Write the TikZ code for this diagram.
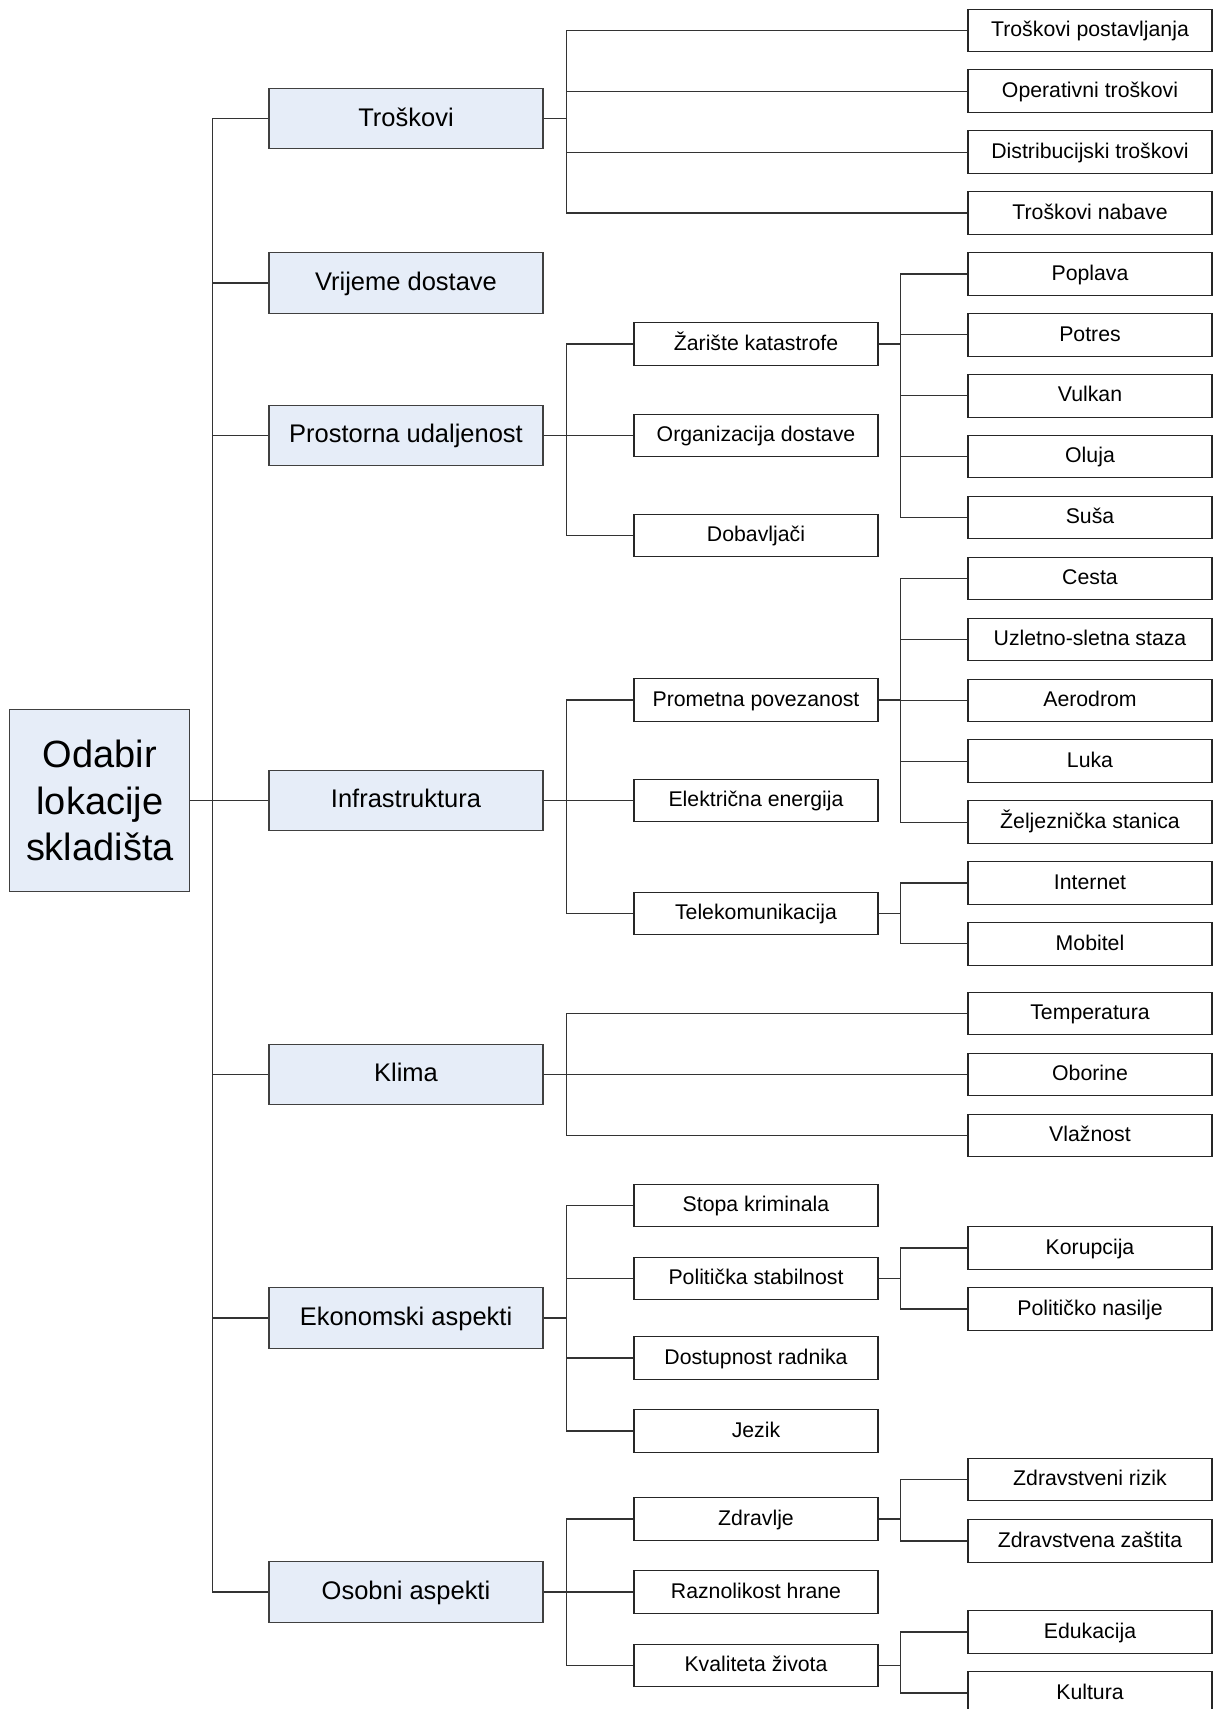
\documentclass[tikz,border=0pt]{standalone}
\usepackage{fontspec}
\setmainfont{Liberation Sans}
\definecolor{boxblue}{RGB}{230,237,248}

\begin{document}
\begin{tikzpicture}[
  root/.style={draw=black!75,fill=boxblue,line width=0.6pt,minimum width=3.6cm,minimum height=3.65cm,inner sep=0pt,align=center,font=\fontsize{21.6}{26.5}\selectfont},
  factor/.style={draw=black!75,fill=boxblue,line width=0.6pt,minimum width=5.48cm,minimum height=1.21cm,inner sep=0pt,text height=11.6pt,text depth=3.2pt,font=\fontsize{14.5}{17}\selectfont},
  sub/.style={draw=black!85,fill=white,line width=0.6pt,minimum width=4.88cm,minimum height=0.85cm,inner sep=0pt,text height=9.7pt,text depth=2.7pt,font=\fontsize{12.1}{14}\selectfont},
  link/.style={draw=black!80,line width=0.6pt}
]
\useasboundingbox (0,0) rectangle (24.26,-34.18);

% root
\node[root] (odabir) at (1.997,-16.01) {Odabir\\lokacije\\skladišta};

% first level
\node[factor] (troskovi) at (8.12,-2.374) {Troškovi};
\node[factor] (vrijeme) at (8.12,-5.66) {Vrijeme dostave};
\node[factor] (prostorna) at (8.12,-8.706) {Prostorna udaljenost};
\node[factor] (infra) at (8.12,-16.01) {Infrastruktura};
\node[factor] (klima) at (8.12,-21.49) {Klima};
\node[factor] (ekonomski) at (8.12,-26.36) {Ekonomski aspekti};
\node[factor] (osobni) at (8.12,-31.84) {Osobni aspekti};

% second level
\node[sub] (zariste) at (15.12,-6.88) {Žarište katastrofe};
\node[sub] (organizacija) at (15.12,-8.706) {Organizacija dostave};
\node[sub] (dobavljaci) at (15.12,-10.714) {Dobavljači};
\node[sub] (prometna) at (15.12,-14.0) {Prometna povezanost};
\node[sub] (elektricna) at (15.12,-16.014) {Električna energija};
\node[sub] (telekom) at (15.12,-18.27) {Telekomunikacija};
\node[sub] (stopa) at (15.12,-24.114) {Stopa kriminala};
\node[sub] (politicka) at (15.12,-25.574) {Politička stabilnost};
\node[sub] (dostupnost) at (15.12,-27.16) {Dostupnost radnika};
\node[sub] (jezik) at (15.12,-28.62) {Jezik};
\node[sub] (zdravlje) at (15.12,-30.38) {Zdravlje};
\node[sub] (raznolikost) at (15.12,-31.84) {Raznolikost hrane};
\node[sub] (kvaliteta) at (15.12,-33.31) {Kvaliteta života};

% third level
\node[sub] (postavljanje) at (21.8,-0.61) {Troškovi postavljanja};
\node[sub] (operativni) at (21.8,-1.824) {Operativni troškovi};
\node[sub] (distribucija) at (21.8,-3.042) {Distribucijski troškovi};
\node[sub] (nabava) at (21.8,-4.26) {Troškovi nabave};
\node[sub] (poplava) at (21.8,-5.48) {Poplava};
\node[sub] (potres) at (21.8,-6.698) {Potres};
\node[sub] (vulkan) at (21.8,-7.916) {Vulkan};
\node[sub] (oluja) at (21.8,-9.134) {Oluja};
\node[sub] (susa) at (21.8,-10.352) {Suša};
\node[sub] (cesta) at (21.8,-11.57) {Cesta};
\node[sub] (staza) at (21.8,-12.788) {Uzletno-sletna staza};
\node[sub] (aerodrom) at (21.8,-14.006) {Aerodrom};
\node[sub] (luka) at (21.8,-15.224) {Luka};
\node[sub] (zeljeznica) at (21.8,-16.442) {Željeznička stanica};
\node[sub] (internet) at (21.8,-17.66) {Internet};
\node[sub] (mobitel) at (21.8,-18.878) {Mobitel};
\node[sub] (temperatura) at (21.8,-20.274) {Temperatura};
\node[sub] (oborine) at (21.8,-21.492) {Oborine};
\node[sub] (vlaznost) at (21.8,-22.71) {Vlažnost};
\node[sub] (korupcija) at (21.8,-24.96) {Korupcija};
\node[sub] (nasilje) at (21.8,-26.18) {Političko nasilje};
\node[sub] (rizik) at (21.8,-29.594) {Zdravstveni rizik};
\node[sub] (zastita) at (21.8,-30.82) {Zdravstvena zaštita};
\node[sub] (edukacija) at (21.8,-32.64) {Edukacija};
\node[sub] (kultura) at (21.8,-33.86) {Kultura};

% root to first level
\draw[link] (odabir.east) -- ++(0.45,0) |- (troskovi.west);
\draw[link] (odabir.east) -- ++(0.45,0) |- (vrijeme.west);
\draw[link] (odabir.east) -- ++(0.45,0) |- (prostorna.west);
\draw[link] (odabir.east) -- ++(0.45,0) |- (infra.west);
\draw[link] (odabir.east) -- ++(0.45,0) |- (klima.west);
\draw[link] (odabir.east) -- ++(0.45,0) |- (ekonomski.west);
\draw[link] (odabir.east) -- ++(0.45,0) |- (osobni.west);

% Troskovi
\draw[link] (troskovi.east) -- ++(0.45,0) |- (postavljanje.west);
\draw[link] (troskovi.east) -- ++(0.45,0) |- (operativni.west);
\draw[link] (troskovi.east) -- ++(0.45,0) |- (distribucija.west);
\draw[link] (troskovi.east) -- ++(0.45,0) |- (nabava.west);

% Prostorna udaljenost
\draw[link] (prostorna.east) -- ++(0.45,0) |- (zariste.west);
\draw[link] (prostorna.east) -- ++(0.45,0) |- (organizacija.west);
\draw[link] (prostorna.east) -- ++(0.45,0) |- (dobavljaci.west);
\draw[link] (zariste.east) -- ++(0.44,0) |- (poplava.west);
\draw[link] (zariste.east) -- ++(0.44,0) |- (potres.west);
\draw[link] (zariste.east) -- ++(0.44,0) |- (vulkan.west);
\draw[link] (zariste.east) -- ++(0.44,0) |- (oluja.west);
\draw[link] (zariste.east) -- ++(0.44,0) |- (susa.west);

% Infrastruktura
\draw[link] (infra.east) -- ++(0.45,0) |- (prometna.west);
\draw[link] (infra.east) -- ++(0.45,0) |- (elektricna.west);
\draw[link] (infra.east) -- ++(0.45,0) |- (telekom.west);
\draw[link] (prometna.east) -- ++(0.44,0) |- (cesta.west);
\draw[link] (prometna.east) -- ++(0.44,0) |- (staza.west);
\draw[link] (prometna.east) -- ++(0.44,0) |- (aerodrom.west);
\draw[link] (prometna.east) -- ++(0.44,0) |- (luka.west);
\draw[link] (prometna.east) -- ++(0.44,0) |- (zeljeznica.west);
\draw[link] (telekom.east) -- ++(0.44,0) |- (internet.west);
\draw[link] (telekom.east) -- ++(0.44,0) |- (mobitel.west);

% Klima
\draw[link] (klima.east) -- ++(0.45,0) |- (temperatura.west);
\draw[link] (klima.east) -- ++(0.45,0) |- (oborine.west);
\draw[link] (klima.east) -- ++(0.45,0) |- (vlaznost.west);

% Ekonomski aspekti
\draw[link] (ekonomski.east) -- ++(0.45,0) |- (stopa.west);
\draw[link] (ekonomski.east) -- ++(0.45,0) |- (politicka.west);
\draw[link] (ekonomski.east) -- ++(0.45,0) |- (dostupnost.west);
\draw[link] (ekonomski.east) -- ++(0.45,0) |- (jezik.west);
\draw[link] (politicka.east) -- ++(0.44,0) |- (korupcija.west);
\draw[link] (politicka.east) -- ++(0.44,0) |- (nasilje.west);

% Osobni aspekti
\draw[link] (osobni.east) -- ++(0.45,0) |- (zdravlje.west);
\draw[link] (osobni.east) -- ++(0.45,0) |- (raznolikost.west);
\draw[link] (osobni.east) -- ++(0.45,0) |- (kvaliteta.west);
\draw[link] (zdravlje.east) -- ++(0.44,0) |- (rizik.west);
\draw[link] (zdravlje.east) -- ++(0.44,0) |- (zastita.west);
\draw[link] (kvaliteta.east) -- ++(0.44,0) |- (edukacija.west);
\draw[link] (kvaliteta.east) -- ++(0.44,0) |- (kultura.west);

\end{tikzpicture}
\end{document}
